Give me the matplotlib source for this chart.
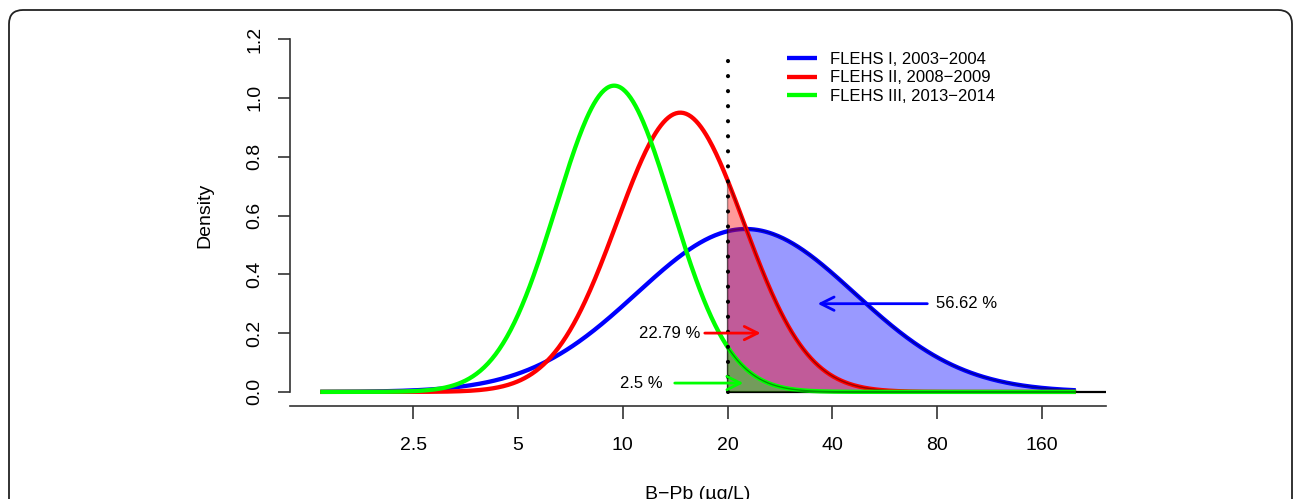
import numpy as np
import matplotlib
matplotlib.use("Agg")
import matplotlib.pyplot as plt
from matplotlib.patches import FancyBboxPatch
from matplotlib.transforms import IdentityTransform
from matplotlib.ticker import NullLocator

plt.rcParams['font.family'] = ['Liberation Sans', 'DejaVu Sans']

studies = ["FLEHS I, 2003\u22122004", "FLEHS II, 2008\u22122009", "FLEHS III, 2013\u22122014"]
colors = ["#0000ff", "#ff0000", "#00ff00"]
geo_mean = [22.55, 14.63, 9.44]     # ug/L
log_sd = [0.72, 0.42, 0.383]        # sd of ln(B-Pb)
pct_above = ["56.62 %", "22.79 %", "2.5 %"]
cutoff = 20

x_ticks = [2.5, 5, 10, 20, 40, 80, 160]
x_ticklabels = ["2.5", "5", "10", "20", "40", "80", "160"]
y_ticks = [0.0, 0.2, 0.4, 0.6, 0.8, 1.0, 1.2]

# annotation arrows (tail x, head x, y) and where the labels sit
arrow_tail = [75.0, 17.2, 14.1]
arrow_head = [36.3, 24.9, 22.2]
arrow_y = [0.30, 0.20, 0.03]
label_x = [79.6, 16.7, 13.0]
label_ha = ["left", "right", "right"]

fig = plt.figure(figsize=(12.96, 4.99), dpi=100)
ax = fig.add_axes([290/1296, 1 - 406/499, 816/1296, 381/499])

lx = np.linspace(0.3, 5.3, 600)
x = np.exp(lx)
for i in range(3):
    mu = np.log(geo_mean[i])
    dens = np.exp(-0.5*((lx - mu)/log_sd[i])**2) / (log_sd[i]*np.sqrt(2*np.pi))
    ax.plot(x, dens, color=colors[i], lw=3.1, label=studies[i], zorder=2+2*i,
            solid_capstyle='butt')
    m = x >= cutoff
    xs = np.concatenate([[cutoff], x[m], [x[m][-1]]])
    d_cut = np.exp(-0.5*((np.log(cutoff) - mu)/log_sd[i])**2) / (log_sd[i]*np.sqrt(2*np.pi))
    ys = np.concatenate([[d_cut], dens[m], [0]])
    ax.fill(np.concatenate([[cutoff], xs]), np.concatenate([[0], ys]),
            facecolor=colors[i], alpha=0.4, edgecolor='black', lw=1.0, zorder=3+2*i)

# cut-off line
ax.plot([cutoff, cutoff], [0, 1.165], color='black', lw=3,
        linestyle=(0, (0.01, 3.6)), dash_capstyle='round', zorder=10)
ax.plot([cutoff, np.exp(5.5)], [0, 0], color='black', lw=1.6, zorder=1)

for i in range(3):
    ax.annotate("", xy=(arrow_head[i], arrow_y[i]), xytext=(arrow_tail[i], arrow_y[i]),
                arrowprops=dict(arrowstyle='->,head_length=0.8,head_width=0.4',
                                mutation_scale=12, color=colors[i], lw=2.0,
                                shrinkA=0, shrinkB=0), zorder=11)
    ax.text(label_x[i], arrow_y[i], pct_above[i], ha=label_ha[i], va='center',
            fontsize=12, zorder=11)

ax.set_xscale('log')
ax.set_xlim(np.exp(0.1), np.exp(5.5))
ax.set_ylim(-0.048, 1.248)
ax.set_xticks(x_ticks)
ax.set_xticklabels(x_ticklabels)
ax.xaxis.set_minor_locator(NullLocator())
ax.set_yticks(y_ticks)
ax.set_yticklabels(["%.1f" % v for v in y_ticks], rotation=90, va='center')
ax.tick_params(axis='both', labelsize=14, length=9, width=1.2, color='#333333')
ax.tick_params(axis='x', pad=13)
ax.tick_params(axis='y', pad=10)
for s in ['top', 'right']:
    ax.spines[s].set_visible(False)
ax.spines['left'].set_bounds(0, 1.2)
for s in ['left', 'bottom']:
    ax.spines[s].set_linewidth(1.2)
    ax.spines[s].set_color('#333333')

ax.set_ylabel("Density", fontsize=14)
ax.yaxis.set_label_coords(-0.094, 0.5)
ax.set_xlabel("B\u2212Pb (\u00b5g/L)", fontsize=14)
ax.xaxis.set_label_coords(0.5, -0.21)

ax.legend(loc='upper left', bbox_to_anchor=(0.609, 0.93), frameon=False,
          fontsize=12, handlelength=1.8, handletextpad=0.8, labelspacing=0.22,
          borderpad=0, borderaxespad=0)

frame = FancyBboxPatch((9, -30), 1283, 519, boxstyle="round,pad=0,rounding_size=14",
                       transform=IdentityTransform(), facecolor='none',
                       edgecolor='#222222', lw=1.3)
fig.patches.append(frame)

fig.savefig("out.png", dpi=100)
